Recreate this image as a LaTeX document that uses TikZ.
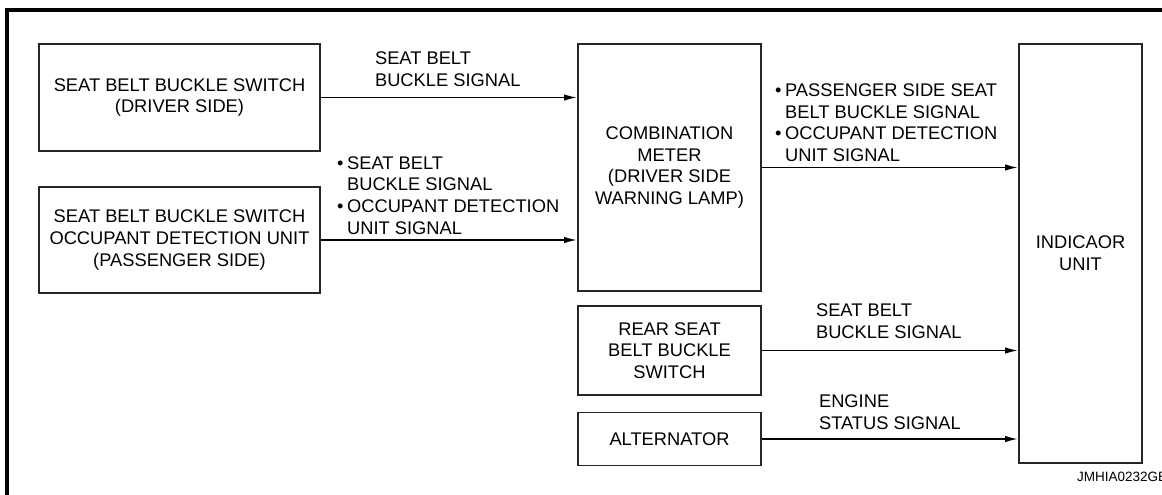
\documentclass[tikz,border=0pt]{standalone}
\usepackage{fontspec}
\setmainfont{Liberation Sans}
\usetikzlibrary{arrows.meta,positioning}

\newcommand{\bul}{\makebox[0.55em][l]{\textbullet}}
\newcommand{\ind}{\hspace*{0.55em}}

\begin{document}
\begin{tikzpicture}[x=1pt,y=-1pt,
  box/.style={draw=black!85,line width=1.7pt,align=center,inner sep=0pt,
    font=\fontsize{18.3}{21.7}\selectfont},
  lbl/.style={align=left,inner sep=0pt,font=\fontsize{18.3}{21.7}\selectfont},
  sig/.style={draw=black,line width=1.8pt,-{Latex[length=13pt,width=6.5pt]}}]
  \clip (0,0) rectangle (1162,495);
  \draw[line width=4pt] (7,10) rectangle (1190,520);
  % sources
  \node[box,minimum width=281pt,minimum height=107pt] (drvsw) at (179.5,97.5)
    {SEAT BELT BUCKLE SWITCH\\(DRIVER SIDE)};
  \node[box,minimum width=281pt,minimum height=106pt] (passw) at (179.5,240)
    {SEAT BELT BUCKLE SWITCH\\OCCUPANT DETECTION UNIT\\(PASSENGER SIDE)};
  \node[box,minimum width=183pt,minimum height=247pt] (meter) at (669.5,167.5)
    {COMBINATION\\METER\\(DRIVER SIDE\\WARNING LAMP)};
  \node[box,minimum width=183pt,minimum height=89pt] (rearsw) at (669.5,350.5)
    {REAR SEAT\\BELT BUCKLE\\SWITCH};
  \node[box,minimum width=183pt,minimum height=53pt] (alt) at (669.5,439)
    {ALTERNATOR};
  \node[box,minimum width=123pt,minimum height=419pt] (ind) at (1080.5,253.5)
    {INDICAOR\\UNIT};
  % signals
  \draw[sig] (drvsw.east) -- (drvsw.east -| meter.west);
  \draw[sig] (passw.east) -- (passw.east -| meter.west);
  \draw[sig] (meter.east) -- (meter.east -| ind.west);
  \draw[sig] (rearsw.east) -- (rearsw.east -| ind.west);
  \draw[sig] (alt.east) -- (alt.east -| ind.west);
  \node[lbl,above right=11pt and 54pt of drvsw.east] (s1)
    {SEAT BELT\\BUCKLE SIGNAL};
  \node[lbl,above right=5.5pt and 16pt of passw.east] (s2)
    {\bul SEAT BELT\\\ind BUCKLE SIGNAL\\\bul OCCUPANT DETECTION\\\ind UNIT SIGNAL};
  \node[lbl,above right=5.5pt and 13pt of meter.east] (s3)
    {\bul PASSENGER SIDE SEAT\\\ind BELT BUCKLE SIGNAL\\\bul OCCUPANT DETECTION\\\ind UNIT SIGNAL};
  \node[lbl,above right=11.5pt and 54pt of rearsw.east] (s4)
    {SEAT BELT\\BUCKLE SIGNAL};
  \node[lbl,above right=9pt and 57pt of alt.east] (s5)
    {ENGINE\\STATUS SIGNAL};
  \node[anchor=base west,inner sep=0pt,font=\fontsize{13.5}{16}\selectfont] (code)
    at (1077,481) {JMHIA0232GE};
\end{tikzpicture}
\end{document}
